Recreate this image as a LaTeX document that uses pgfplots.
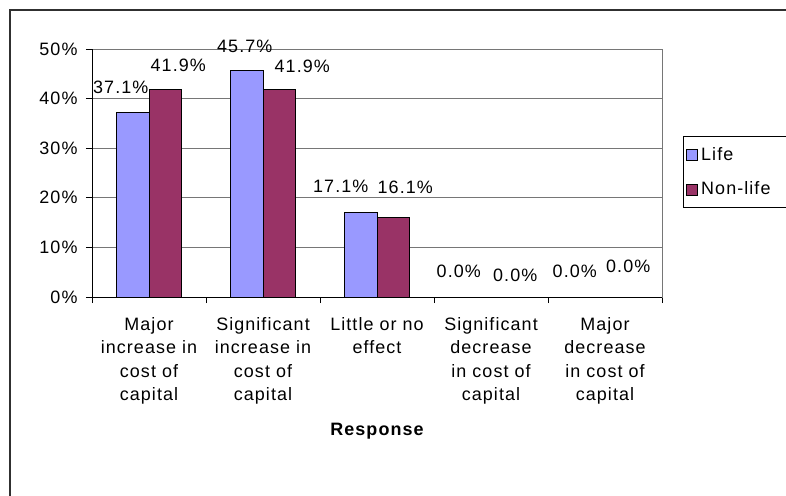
\documentclass[border=0pt]{standalone}
\usepackage{pgfplots}
\usepackage{pgfplotstable}
\pgfplotsset{compat=1.18}
\usepackage{fontspec}
\setmainfont{Liberation Sans}[LetterSpace=6]

\definecolor{lifeblue}{HTML}{9999FF}
\definecolor{nonlife}{HTML}{993366}
\definecolor{gridgray}{HTML}{767676}
\definecolor{framegray}{HTML}{303030}

% share of responses (%), with label offsets (bp) relative to the bar top
\pgfplotstableread{
x y dx dy
0 37.1 -12 26
1 45.7 -2 24
2 17.1 -20 26
3 0.0 -16 26
4 0.0 -14 26
}\lifedata
\pgfplotstableread{
x y dx dy
0 41.9 13 24
1 41.9 23 23
2 16.1 12 30
3 0.0 8 22
4 0.0 7 31
}\nonlifedata

\begin{document}
\begin{tikzpicture}
\useasboundingbox (0bp,0bp) rectangle (786bp,-496bp);
\clip (0bp,0bp) rectangle (786bp,-496bp);
% chart frame
\draw[framegray, line width=1.5bp] (10bp,-10bp) rectangle (840bp,-560bp);
\begin{axis}[
  at={(92bp,-297bp)}, anchor=south west,
  width=570bp, height=248bp, scale only axis,
  font=\fontsize{18}{23.5}\selectfont,
  /pgf/number format/assume math mode=true,
  xmin=-0.5, xmax=4.5, ymin=0, ymax=50,
  ybar=0pt, bar width=0.285,
  ytick={0,10,...,50},
  yticklabels={0\%,10\%,20\%,30\%,40\%,50\%},
  yticklabel style={xshift=-5bp},
  xtick={-0.5,0.5,...,4.5},
  xticklabels={},
  xtick pos=bottom, ytick pos=left,
  extra x ticks={0,1,2,3,4},
  extra x tick labels={{Major\\increase in\\cost of\\capital},{Significant\\increase in\\cost of\\capital},{Little or no\\effect},{Significant\\decrease\\in cost of\\capital},{Major\\decrease\\in cost of\\capital}},
  extra x tick style={major tick length=0pt, grid=none,
    tick label style={align=center, anchor=north, yshift=-17bp}},
  tick align=outside, major tick length=6bp,
  tick style={black, line width=0.8bp},
  ymajorgrids, grid style={gridgray, line width=1bp},
  axis line style={gridgray, line width=1bp},
  xlabel={\bfseries Response},
  xlabel style={at={(axis description cs:0.5,0)}, anchor=center, yshift=-134bp},
  nodes near coords={\pgfmathprintnumber[fixed,fixed zerofill,precision=1]{\pgfplotspointmeta}\%},
  visualization depends on={\thisrow{dx} \as \labdx},
  visualization depends on={\thisrow{dy} \as \labdy},
  every node near coord/.append style={anchor=center, xshift=\labdx bp, yshift=\labdy bp, inner sep=0pt, black},
  legend style={at={(rel axis cs:1.0368,0.649)}, anchor=north west,
    draw=black, line width=0.8bp, inner xsep=3bp, inner ysep=9bp,
    row sep=16bp, font=\fontsize{18}{20}\selectfont, legend cell align=left,
    nodes={text width=110bp, inner xsep=3bp}},
  legend image code/.code={\draw[#1, line width=0.8bp] (0bp,-6bp) rectangle (11bp,5bp);},
]
\addplot[fill=lifeblue, draw=black, line width=1bp] table[x=x, y=y] {\lifedata};
\addplot[fill=nonlife, draw=black, line width=1bp] table[x=x, y=y] {\nonlifedata};
\legend{Life, Non-life}
\draw[black, line width=1bp] (rel axis cs:0,0) -- (rel axis cs:0,1);
\draw[black, line width=1bp] (rel axis cs:0,0) -- (rel axis cs:1,0);
\end{axis}
\end{tikzpicture}
\end{document}
